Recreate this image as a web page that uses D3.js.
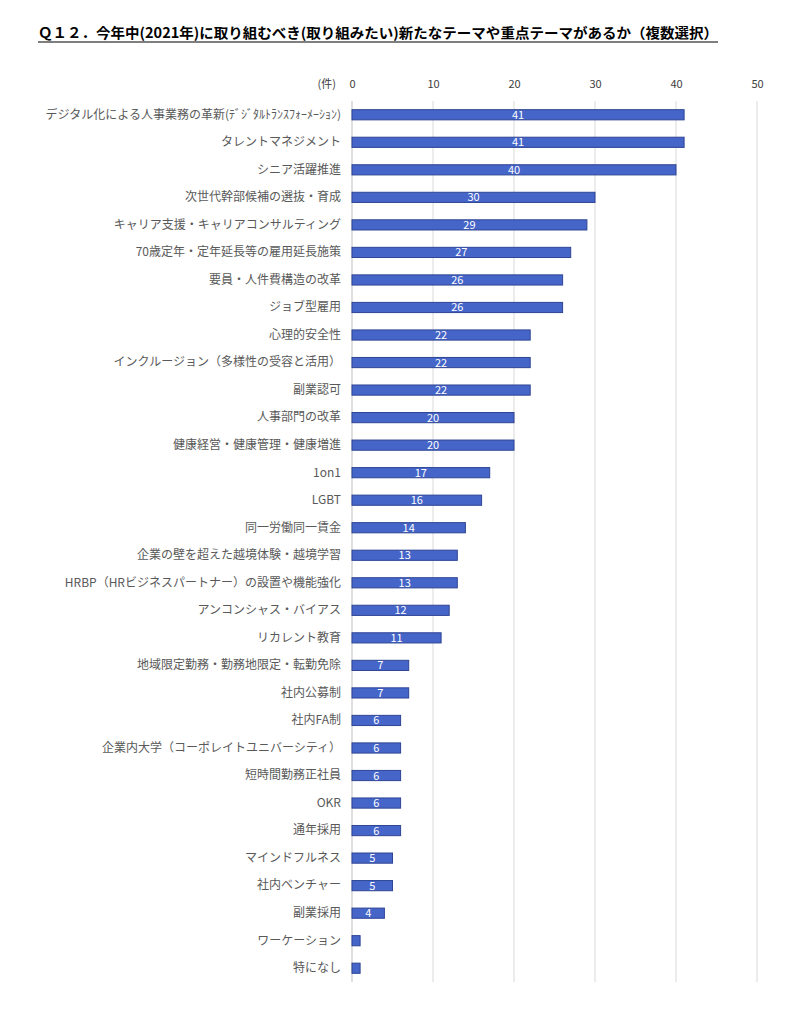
<!DOCTYPE html>
<html>
<head>
<meta charset="utf-8">
<script src="https://cdn.jsdelivr.net/npm/d3@7"></script>
<style>
  body { margin: 0; background: #fff; }
  text { font-family: "Noto Sans CJK JP", "Noto Sans", sans-serif; }
</style>
</head>
<body>
<div id="chart"></div>
<script>
const TITLE = 'Ｑ１２．今年中(2021年)に取り組むべき(取り組みたい)新たなテーマや重点テーマがあるか（複数選択）';

const categories = [
    'デジタル化による人事業務の革新(ﾃﾞｼﾞﾀﾙﾄﾗﾝｽﾌｫｰﾒｰｼｮﾝ)',
    'タレントマネジメント',
    'シニア活躍推進',
    '次世代幹部候補の選抜・育成',
    'キャリア支援・キャリアコンサルティング',
    '70歳定年・定年延長等の雇用延長施策',
    '要員・人件費構造の改革',
    'ジョブ型雇用',
    '心理的安全性',
    'インクルージョン（多様性の受容と活用）',
    '副業認可',
    '人事部門の改革',
    '健康経営・健康管理・健康増進',
    '1on1',
    'LGBT',
    '同一労働同一賃金',
    '企業の壁を超えた越境体験・越境学習',
    'HRBP（HRビジネスパートナー）の設置や機能強化',
    'アンコンシャス・バイアス',
    'リカレント教育',
    '地域限定勤務・勤務地限定・転勤免除',
    '社内公募制',
    '社内FA制',
    '企業内大学（コーポレイトユニバーシティ）',
    '短時間勤務正社員',
    'OKR',
    '通年採用',
    'マインドフルネス',
    '社内ベンチャー',
    '副業採用',
    'ワーケーション',
    '特になし'
];

const values = [41, 41, 40, 30, 29, 27, 26, 26, 22, 22, 22, 20, 20, 17, 16, 14, 13, 13, 12, 11, 7, 7, 6, 6, 6, 6, 6, 5, 5, 4, 1, 1];

const xTicks = [0, 10, 20, 30, 40, 50];

const WIDTH = 800, HEIGHT = 1021;
const MARGIN = { left: 352, right: 43, top: 101, bottom: 39 };

const svg = d3.select('#chart').append('svg')
    .attr('width', WIDTH)
    .attr('height', HEIGHT);

// Title, underlined
svg.append('text')
    .attr('x', 38)
    .attr('y', 38)
    .attr('font-size', 14)
    .attr('font-weight', 'bold')
    .attr('fill', '#000')
    .attr('textLength', 680)
    .attr('lengthAdjust', 'spacingAndGlyphs')
    .text(TITLE);
svg.append('line')
    .attr('x1', 38).attr('x2', 718)
    .attr('y1', 42).attr('y2', 42)
    .attr('stroke', '#000').attr('stroke-width', 1.2);

const x = d3.scaleLinear()
    .domain([0, 50])
    .range([MARGIN.left, WIDTH - MARGIN.right]);

const y = d3.scaleBand()
    .domain(categories)
    .range([MARGIN.top, HEIGHT - MARGIN.bottom])
    .paddingInner(0.63)
    .paddingOuter(0.315);

// Gridlines
svg.append('g')
    .selectAll('line')
    .data(xTicks)
    .join('line')
    .attr('x1', d => x(d)).attr('x2', d => x(d))
    .attr('y1', MARGIN.top).attr('y2', HEIGHT - MARGIN.bottom)
    .attr('stroke', d => d === 0 ? '#bfbfbf' : '#d9d9d9')
    .attr('stroke-width', 1);

// Top axis labels
const xAxis = d3.axisTop(x).tickValues(xTicks).tickSize(0).tickPadding(0);
const gx = svg.append('g')
    .attr('transform', `translate(0, 88)`)
    .call(xAxis);
gx.select('.domain').remove();
gx.selectAll('text')
    .attr('font-size', 11)
    .attr('fill', '#404040')
    .attr('font-family', '"Noto Sans CJK JP", sans-serif');

svg.append('text')
    .attr('x', 336)
    .attr('y', 88)
    .attr('text-anchor', 'end')
    .attr('font-size', 11)
    .attr('fill', '#404040')
    .text('(件)');

// Category labels
const yAxis = d3.axisLeft(y).tickSize(0).tickPadding(11);
const gy = svg.append('g')
    .attr('transform', `translate(${MARGIN.left}, 0)`)
    .call(yAxis);
gy.select('.domain').remove();
gy.selectAll('text')
    .attr('font-size', 12)
    .attr('fill', '#595959')
    .attr('font-family', '"Noto Sans CJK JP", sans-serif');

const data = categories.map((c, i) => ({ name: c, value: values[i] }));

// Bars
svg.append('g')
    .selectAll('rect')
    .data(data)
    .join('rect')
    .attr('x', x(0))
    .attr('y', d => y(d.name))
    .attr('width', d => x(d.value) - x(0))
    .attr('height', y.bandwidth())
    .attr('fill', '#4565C8')
    .attr('stroke', '#2F4594')
    .attr('stroke-width', 1);

// Value labels
svg.append('g')
    .selectAll('text')
    .data(data.filter(d => d.value > 1))
    .join('text')
    .attr('x', d => (x(0) + x(d.value)) / 2)
    .attr('y', d => y(d.name) + y.bandwidth() / 2 + 4)
    .attr('text-anchor', 'middle')
    .attr('font-size', 11)
    .attr('fill', '#fff')
    .text(d => d.value);
</script>
</body>
</html>
